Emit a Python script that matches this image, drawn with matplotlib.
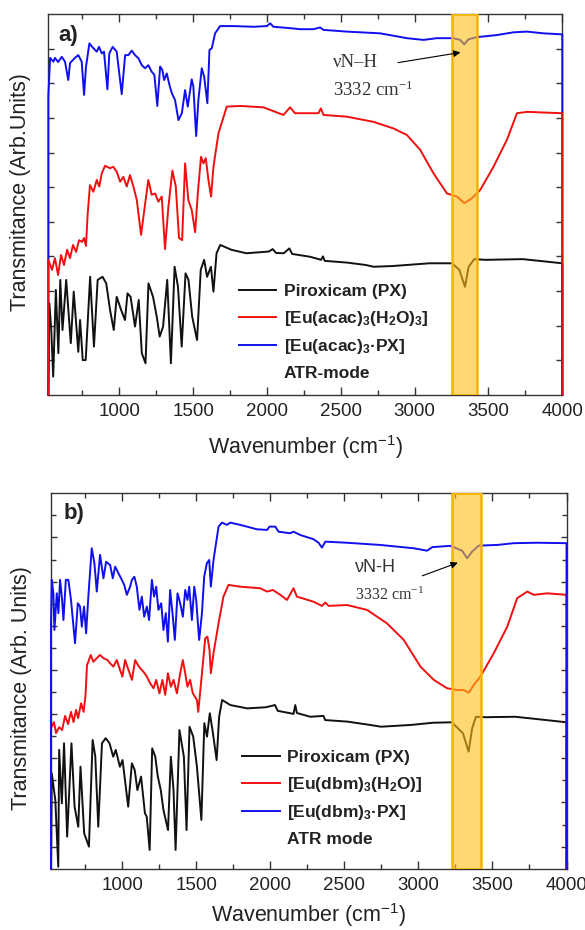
import matplotlib
matplotlib.use("Agg")
import matplotlib.pyplot as plt
from matplotlib.lines import Line2D
from matplotlib.ticker import FixedLocator

plt.rcParams['font.family'] = ['Liberation Sans', 'DejaVu Sans']
plt.rcParams['mathtext.fontset'] = 'custom'
plt.rcParams['mathtext.rm'] = 'Liberation Sans'
plt.rcParams['mathtext.bf'] = 'Liberation Sans:bold'
plt.rcParams['mathtext.it'] = 'Liberation Sans:italic'
plt.rcParams['mathtext.default'] = 'regular'

# ---------------- data ----------------
x_range = (520, 4000)
x_major = [1000, 1500, 2000, 2500, 3000, 3500, 4000]
x_minor = [750, 1250, 1750, 2250, 2750, 3250, 3750]
x_ticklabels = ['1000', '1500', '2000', '2500', '3000', '3500', '4000']

# panel a  (wavenumber, transmittance arb. units)
a_blue = [(520, 0), (520, 86.2), (532, 97.4), (554, 96.3), (565, 97.4), (586, 96.2), (611, 97.7), (633, 96.3),
          (655, 91.0), (667, 95.9), (700, 97.4), (723, 98.2), (746, 96.3), (762, 86.7), (775, 94.8), (798, 101.6),
          (825, 100.2), (848, 99.2), (863, 100.6), (882, 98.7), (897, 99.2), (920, 88.3), (933, 98.7), (956, 100.6),
          (983, 99.2), (1017, 86.9), (1040, 98.2), (1062, 98.2), (1085, 99.5), (1107, 98.2), (1130, 97.3),
          (1153, 95.3), (1175, 94.4), (1197, 95.3), (1220, 93.4), (1238, 92.5), (1258, 83.5), (1277, 94.9),
          (1292, 93.9), (1304, 91.0), (1322, 92.9), (1340, 89.6), (1356, 87.2), (1378, 85.2), (1401, 79.4),
          (1424, 81.4), (1446, 88.1), (1464, 83.3), (1491, 91.2), (1502, 89.1), (1521, 74.8), (1536, 85.2),
          (1559, 94.4), (1575, 92.0), (1597, 84.3), (1611, 99.7), (1627, 100.2), (1649, 104.5), (1683, 106.6),
          (1773, 106.6), (1909, 106.4), (2000, 106.6), (2022, 107.4), (2044, 106.4), (2157, 106.0), (2225, 105.7),
          (2315, 105.7), (2360, 106.2), (2383, 105.5), (2541, 105.0), (2767, 104.5), (2948, 103.1), (3060, 102.6),
          (3151, 103.1), (3263, 103.1), (3309, 102.6), (3336, 101.3), (3365, 102.8), (3422, 103.4), (3557, 104.0),
          (3670, 104.8), (3761, 105.0), (3873, 104.5), (4000, 104.2), (4000, 0)]

a_red = [(520, 0), (520, 39.0), (545, 36.1), (565, 39.5), (586, 34.6), (606, 40.4), (626, 37.5), (647, 41.9),
         (667, 39.5), (687, 43.3), (708, 41.3), (728, 44.7), (748, 44.2), (762, 45.3), (775, 43.0), (786, 52.0),
         (802, 60.6), (825, 58.7), (848, 62.1), (865, 60.2), (882, 64.0), (904, 66.2), (938, 65.5), (960, 65.9),
         (983, 64.5), (1006, 61.6), (1028, 63.0), (1051, 60.2), (1073, 63.5), (1096, 60.2), (1119, 56.3),
         (1148, 46.2), (1164, 51.5), (1197, 62.1), (1220, 57.8), (1243, 58.2), (1265, 55.8), (1288, 57.3),
         (1310, 42.1), (1333, 54.4), (1360, 64.8), (1383, 60.2), (1405, 45.3), (1426, 44.7), (1446, 66.9),
         (1468, 56.3), (1491, 53.4), (1514, 47.0), (1534, 59.2), (1554, 68.8), (1570, 66.9), (1586, 68.4),
         (1604, 62.1), (1622, 57.3), (1638, 65.9), (1672, 75.6), (1728, 83.3), (1819, 83.5), (1976, 83.1),
         (2112, 80.9), (2157, 83.1), (2190, 81.4), (2349, 81.4), (2365, 82.8), (2383, 80.9), (2541, 80.4),
         (2722, 78.9), (2857, 77.0), (2948, 75.1), (3038, 70.8), (3128, 64.0), (3219, 58.2), (3287, 57.3),
         (3336, 55.4), (3388, 56.8), (3444, 59.2), (3534, 65.9), (3625, 73.7), (3693, 81.4), (3761, 81.8),
         (3873, 81.6), (4000, 81.4), (4000, 0)]

a_black = [(520, 0), (527, 26.4), (540, 18.7), (553, 5.2), (571, 30.3), (588, 12.0), (601, 33.2), (616, 18.7),
           (641, 33.2), (672, 14.9), (692, 29.8), (723, 12.4), (735, 21.6), (753, 10.0), (773, 10.0), (803, 34.1),
           (829, 13.9), (854, 33.2), (887, 34.1), (912, 32.2), (938, 24.5), (963, 18.7), (983, 28.3), (1013, 24.5),
           (1039, 21.6), (1056, 29.3), (1077, 28.3), (1107, 19.7), (1132, 27.4), (1153, 12.0), (1178, 9.1),
           (1198, 32.2), (1229, 28.3), (1254, 22.6), (1274, 16.8), (1297, 19.7), (1325, 33.2), (1350, 9.1),
           (1375, 37.0), (1398, 31.2), (1423, 13.9), (1449, 35.1), (1469, 33.2), (1494, 22.6), (1527, 15.8),
           (1552, 36.1), (1575, 39.0), (1595, 34.1), (1621, 37.0), (1638, 29.8), (1659, 40.9), (1684, 43.3),
           (1760, 41.9), (1861, 40.9), (2013, 41.4), (2039, 42.1), (2062, 41.0), (2114, 40.9), (2152, 42.3),
           (2171, 40.7), (2291, 39.9), (2367, 39.0), (2379, 40.0), (2392, 38.7), (2544, 38.2), (2671, 37.5),
           (2721, 37.0), (2848, 37.2), (3100, 38.0), (3253, 38.0), (3303, 36.1), (3341, 31.2), (3366, 37.0),
           (3404, 39.2), (3480, 39.0), (3733, 39.2), (4000, 38.0), (4000, 0)]

# panel b
b_blue = [(520, 0), (520, 111.1), (525, 130.8), (536, 124.7), (543, 108.1), (559, 124.7), (570, 115.7),
          (581, 130.8), (593, 123.2), (604, 112.6), (620, 130.8), (637, 130.8), (655, 121.7), (682, 102.1),
          (701, 120.2), (716, 118.7), (728, 109.6), (743, 118.7), (757, 106.6), (772, 123.2), (795, 145.1),
          (813, 138.3), (829, 125.5), (851, 142.1), (874, 131.5), (892, 139.0), (919, 137.5), (937, 131.5),
          (953, 136.8), (975, 133.8), (998, 130.8), (1014, 128.5), (1032, 124.0), (1054, 127.7), (1066, 130.8),
          (1083, 132.2), (1099, 127.7), (1117, 117.2), (1133, 123.2), (1149, 114.1), (1167, 118.7), (1182, 112.6),
          (1201, 130.8), (1216, 123.2), (1230, 127.7), (1245, 117.2), (1264, 120.2), (1279, 108.1), (1295, 115.7),
          (1309, 102.8), (1324, 126.2), (1340, 115.7), (1356, 103.6), (1374, 124.7), (1392, 120.2), (1410, 114.1),
          (1426, 126.2), (1441, 121.7), (1453, 127.7), (1471, 112.6), (1487, 127.7), (1500, 121.7), (1520, 103.6),
          (1539, 115.7), (1554, 132.2), (1572, 138.3), (1588, 139.8), (1599, 127.7), (1617, 139.8), (1651, 154.9),
          (1674, 156.7), (1707, 155.7), (1730, 156.7), (1797, 155.7), (1910, 153.7), (1978, 153.4), (1995, 154.9),
          (2034, 154.9), (2056, 152.6), (2135, 151.9), (2157, 152.6), (2203, 151.1), (2292, 149.2), (2326, 147.6),
          (2349, 145.4), (2372, 148.1), (2518, 147.6), (2743, 146.6), (2968, 145.1), (3059, 144.0), (3093, 145.6),
          (3216, 146.2), (3295, 144.0), (3329, 140.6), (3363, 143.6), (3407, 146.3), (3532, 146.6), (3644, 147.4),
          (3802, 147.6), (4000, 147.4), (4000, 0)]

b_red = [(520, 0), (520, 63.7), (540, 66.4), (554, 61.4), (575, 64.1), (595, 62.8), (615, 69.2), (635, 65.5),
         (655, 71.0), (672, 66.4), (689, 71.9), (703, 68.2), (723, 74.9), (740, 71.0), (753, 78.7), (763, 92.2),
         (772, 93.7), (788, 96.8), (806, 93.7), (829, 95.3), (851, 96.8), (874, 95.3), (901, 94.5), (919, 93.0),
         (941, 91.5), (964, 94.5), (986, 90.0), (1002, 87.0), (1020, 94.5), (1043, 90.0), (1066, 85.5),
         (1088, 94.5), (1106, 92.3), (1122, 90.8), (1144, 89.2), (1167, 87.0), (1189, 84.0), (1212, 81.7),
         (1230, 85.5), (1252, 79.4), (1272, 85.5), (1291, 78.7), (1309, 88.5), (1329, 82.4), (1347, 85.5),
         (1370, 79.4), (1392, 88.5), (1410, 94.5), (1426, 88.5), (1441, 82.4), (1459, 85.5), (1477, 79.4),
         (1505, 76.4), (1514, 71.0), (1539, 88.5), (1561, 104.3), (1576, 105.1), (1590, 99.0), (1599, 88.5),
         (1617, 97.6), (1651, 111.1), (1684, 123.2), (1718, 128.5), (1797, 127.7), (1932, 127.0), (1978, 125.5),
         (2018, 126.2), (2068, 124.0), (2113, 121.7), (2157, 127.0), (2180, 123.2), (2292, 120.9), (2349, 119.0),
         (2372, 120.5), (2394, 119.0), (2518, 119.4), (2653, 117.2), (2788, 111.1), (2901, 103.6), (3014, 91.5),
         (3104, 85.5), (3194, 81.7), (3262, 80.9), (3306, 80.9), (3340, 79.7), (3374, 83.2), (3419, 87.0),
         (3509, 97.6), (3600, 109.6), (3667, 122.5), (3735, 125.5), (3780, 124.0), (3870, 124.7), (4000, 124.0),
         (4000, 0)]

b_black = [(520, 0), (525, 43.2), (549, 31.1), (569, 0.9), (575, 53.8), (593, 29.6), (608, 56.8), (629, 14.5),
           (658, 56.8), (679, 28.1), (704, 19.0), (719, 46.2), (744, 16.0), (776, 10.0), (801, 58.3), (819, 50.7),
           (839, 19.0), (864, 56.8), (889, 59.1), (915, 56.8), (940, 50.7), (957, 53.8), (985, 46.2), (1003, 49.2),
           (1041, 28.1), (1066, 47.7), (1085, 44.7), (1103, 35.6), (1128, 41.7), (1154, 25.1), (1166, 23.6),
           (1186, 8.5), (1203, 54.5), (1224, 50.7), (1241, 41.7), (1261, 35.6), (1279, 26.6), (1310, 17.5),
           (1329, 50.7), (1347, 35.6), (1361, 8.5), (1387, 62.8), (1417, 50.7), (1435, 17.5), (1455, 64.3),
           (1480, 59.8), (1505, 46.2), (1535, 22.1), (1555, 65.9), (1573, 59.8), (1592, 70.4), (1610, 62.8),
           (1638, 49.2), (1655, 68.8), (1675, 76.4), (1731, 74.1), (1844, 72.6), (1970, 73.1), (2032, 74.1),
           (2050, 71.5), (2157, 70.1), (2169, 74.1), (2180, 70.5), (2271, 68.8), (2359, 69.2), (2371, 67.3),
           (2522, 66.6), (2673, 65.1), (2748, 64.3), (2949, 65.1), (3100, 66.1), (3226, 66.3), (3301, 61.3),
           (3339, 53.0), (3363, 63.6), (3389, 68.8), (3452, 68.6), (3653, 68.8), (3753, 68.1), (4000, 66.3),
           (4000, 0)]

band_a = (3255, 3420)
band_b = (3225, 3425)

labels_a = ['Piroxicam (PX)', r'[Eu(acac)$_\mathbf{3}$(H$_\mathbf{2}$O)$_\mathbf{3}$]',
            r'[Eu(acac)$_\mathbf{3}$·PX]', 'ATR-mode']
labels_b = ['Piroxicam (PX)', r'[Eu(dbm)$_\mathbf{3}$(H$_\mathbf{2}$O)]',
            r'[Eu(dbm)$_\mathbf{3}$·PX]', 'ATR mode']

C_BLACK = '#111111'
C_RED = '#F01010'
C_BLUE = '#1010EE'
TXT = '#222222'

fig = plt.figure(figsize=(5.85, 9.3), dpi=100)
ax_a = fig.add_axes([0.0826, 0.5756, 0.8786, 0.4090])
ax_b = fig.add_axes([0.0872, 0.0659, 0.8812, 0.4037])


def plot_series(ax, data, color):
    xs = [p[0] for p in data]
    ys = [p[1] for p in data]
    ax.plot(xs, ys, color=color, lw=1.4, zorder=3, clip_on=False, solid_joinstyle='round')


def style(ax, ylim, ymaj, ymin):
    ax.set_xlim(*x_range)
    ax.set_ylim(*ylim)
    ax.xaxis.set_major_locator(FixedLocator(x_major))
    ax.xaxis.set_minor_locator(FixedLocator(x_minor))
    ax.set_xticklabels(x_ticklabels)
    ax.yaxis.set_major_locator(FixedLocator(ymaj))
    ax.yaxis.set_minor_locator(FixedLocator(ymin))
    ax.tick_params(which='both', direction='in', top=True, right=True, labelleft=False,
                   color='#333333', width=1.0)
    ax.tick_params(which='major', length=6)
    ax.tick_params(which='minor', length=3.5)
    ax.tick_params(axis='y', which='major', length=4.5)
    ax.tick_params(axis='x', labelsize=13.5, labelcolor=TXT, pad=6)
    for s in ax.spines.values():
        s.set_color('#333333')
        s.set_linewidth(1.0)


def band(ax, rng):
    ax.axvspan(rng[0], rng[1], facecolor=(252 / 255, 190 / 255, 22 / 255), alpha=0.6, lw=0, zorder=4)
    ax.axvspan(rng[0], rng[1], facecolor='none', edgecolor='#F5B400', lw=1.8, zorder=4.5)


# ---- panel a ----
plot_series(ax_a, a_blue, C_BLUE)
plot_series(ax_a, a_black, C_BLACK)
plot_series(ax_a, a_red, C_RED)
style(ax_a, (0, 110), [10, 20, 30, 40, 50, 60, 70, 80, 90, 100], [])
band(ax_a, band_a)

# ---- panel b ----
plot_series(ax_b, b_black, C_BLACK)
plot_series(ax_b, b_red, C_RED)
plot_series(ax_b, b_blue, C_BLUE)
style(ax_b, (0, 170), [10, 30, 50, 70, 90, 110, 130, 150], [20, 40, 60, 80, 100, 120, 140, 160])
band(ax_b, band_b)

# labels
for ax, ylab in [(ax_a, 'Transmitance (Arb.Units)'), (ax_b, 'Transmitance (Arb. Units)')]:
    ax.set_xlabel(r'Wavenumber (cm$^{-1}$)', fontsize=15.5, color=TXT)
    ax.set_ylabel(ylab, fontsize=15.5, color=TXT)
ax_a.xaxis.set_label_coords(0.5, -0.10)
ax_b.xaxis.set_label_coords(0.5, -0.086)
ax_a.yaxis.set_label_coords(-0.034, 0.533)
ax_b.yaxis.set_label_coords(-0.037, 0.481)

ax_a.text(0.019, 0.9456, 'a)', transform=ax_a.transAxes, fontsize=16, fontweight='bold',
          color=TXT, ha='left', va='center')
ax_b.text(0.024, 0.9467, 'b)', transform=ax_b.transAxes, fontsize=16, fontweight='bold',
          color=TXT, ha='left', va='center')

# legends
for ax, labs, anchor in [(ax_a, labels_a, (0.3706, 0.291)), (ax_b, labels_b, (0.371, 0.316))]:
    handles = [Line2D([], [], color=C_BLACK, lw=1.4),
               Line2D([], [], color=C_RED, lw=1.4),
               Line2D([], [], color=C_BLUE, lw=1.4),
               Line2D([], [], color='none', lw=0)]
    leg = ax.legend(handles, labs, loc='upper left', bbox_to_anchor=anchor, frameon=False,
                    prop={'family': 'Liberation Sans', 'weight': 'bold', 'size': 12.5},
                    handlelength=2.17, handletextpad=0.42, labelspacing=0.55,
                    borderpad=0, borderaxespad=0)
    for t in leg.get_texts():
        t.set_color(TXT)
    leg.set_zorder(6)

# annotations
ax_a.text(2449, 96.2, 'νN–H', fontsize=13.5, family='Liberation Serif', color='#333333',
          ha='left', va='center', zorder=6)
ax_a.text(2449, 88.0, r'3332 cm$^{-1}$', fontsize=13.5, family='Liberation Serif', color='#333333',
          ha='left', va='center', zorder=6)
ax_a.annotate('', xy=(3329, 99.1), xytext=(2869, 95.9),
              arrowprops=dict(arrowstyle='-|>', color='black', lw=0.8, mutation_scale=10), zorder=6)

ax_b.text(2574, 136.2, 'νN-H', fontsize=13, color='#333333', ha='left', va='center', zorder=6)
ax_b.text(2574, 124.0, r'3332 cm$^{-1}$', fontsize=11.5, family='Liberation Serif', color='#333333',
          ha='left', va='center', zorder=6)
ax_b.annotate('', xy=(3284, 139.0), xytext=(3009, 132.2),
              arrowprops=dict(arrowstyle='-|>', color='black', lw=0.8, mutation_scale=10), zorder=6)

fig.savefig('out.png', dpi=100)
